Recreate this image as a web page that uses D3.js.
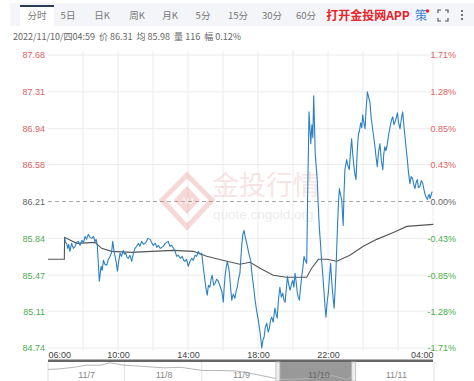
<!DOCTYPE html>
<html>
<head>
    <meta charset="utf-8">
    <title>分时图</title>
</head>
<style>
body { margin: 0; background: #fff; font-family: "Liberation Sans", Arial, "Noto Sans CJK SC", sans-serif; }
.axis text { font-family: "Liberation Sans", Arial, sans-serif; }
</style>
<body>

<script src="https://cdn.jsdelivr.net/npm/d3@7/dist/d3.min.js"></script>
<script>

// tab labels at the top
var tabs = ["分时", "5日", "日K", "周K", "月K", "5分", "15分", "30分", "60分"];
var infoText = "2022/11/10/四04:59  价 86.31  均 85.98  量 116  幅 0.12%";

// price axis (left) and change axis (right)
var priceTicks = [87.68, 87.31, 86.94, 86.58, 86.21, 85.84, 85.47, 85.11, 84.74];
var pctTicks = ["1.71%", "1.28%", "0.85%", "0.43%", "0.00%", "-0.43%", "-0.85%", "-1.28%", "-1.71%"];
var prevClose = 86.21;

// time axis labels
var timeLabels = ["06:00", "10:00", "14:00", "18:00", "22:00", "04:00"];

// minute price line (time, price)
var priceTimes = [
    "06:57","07:00","07:04","07:08","07:11","07:15","07:18","07:21","07:27","07:33",
    "07:38","07:44","07:50","07:56","08:02","08:07","08:12","08:18","08:24","08:30",
    "08:36","08:41","08:45","08:49","08:56","09:02","09:06","09:10","09:15","09:21",
    "09:27","09:33","09:38","09:42","09:46","09:50","09:54","09:58","10:03","10:07",
    "10:12","10:18","10:22","10:27","10:31","10:35","10:41","10:47","10:52","10:58",
    "11:04","11:10","11:15","11:21","11:28","11:36","11:43","11:50","11:55","12:01",
    "12:08","12:13","12:18","12:25","12:35","12:42","12:52","12:58","13:04","13:10",
    "13:15","13:21","13:27","13:33","13:40","13:45","13:50","13:55","14:01","14:07",
    "14:13","14:18","14:24","14:30","14:35","14:41","14:47","14:52","14:58","15:02",
    "15:06","15:10","15:15","15:19","15:23","15:28","15:33","15:38","15:44","15:50",
    "15:56","16:01","16:04","16:07","16:11","16:15","16:19","16:22","16:26","16:30",
    "16:35","16:41","16:45","16:49","16:53","16:58","17:01","17:04","17:08","17:12",
    "17:15","17:19","17:23","17:27","17:31","17:35","17:38","17:42","17:46","17:50",
    "17:55","18:01","18:07","18:13","18:17","18:21","18:25","18:30","18:35","18:39",
    "18:43","18:47","18:52","18:58","19:02","19:06","19:10","19:15","19:20","19:25",
    "19:29","19:33","19:37","19:41","19:45","19:50","19:55","19:59","20:03","20:07",
    "20:11","20:15","20:18","20:22","20:26","20:30","20:34","20:38","20:42","20:47",
    "20:50","20:55","20:58","21:01","21:03","21:05","21:08","21:11","21:14","21:16",
    "21:20","21:23","21:27","21:30","21:34","21:38","21:42","21:46","21:50","21:53",
    "21:57","22:01","22:05","22:09","22:13","22:16","22:21","22:24","22:27","22:30",
    "22:33","22:36","22:39","22:43","22:47","22:52","22:55","22:58","23:01","23:04",
    "23:08","23:13","23:17","23:21","23:25","23:29","23:33","23:36","23:40","23:44",
    "23:48","23:52","23:56","23:59","00:03","00:07","00:11","00:15","00:20","00:24",
    "00:28","00:33","00:37","00:41","00:45","00:49","00:53","00:58","01:03","01:08",
    "01:11","01:15","01:19","01:23","01:28","01:33","01:37","01:42","01:46","01:50",
    "01:54","01:58","02:02","02:07","02:11","02:16","02:20","02:24","02:28","02:32",
    "02:36","02:41","02:45","02:50","02:54","02:58","03:02","03:06","03:10","03:15",
    "03:20","03:25","03:29","03:33","03:37","03:41","03:44","03:47","03:50","03:52",
    "03:55","03:57"];
var priceValues = [
    85.85,85.80,85.79,85.74,85.78,85.71,85.75,85.79,85.74,85.76,
    85.80,85.81,85.77,85.82,85.80,85.86,85.83,85.88,85.85,85.84,
    85.86,85.81,85.83,85.77,85.41,85.56,85.52,85.62,85.58,85.57,
    85.63,85.66,85.70,85.81,85.72,85.66,85.60,85.51,85.62,85.69,
    85.66,85.72,85.68,85.69,85.65,85.64,85.67,85.61,85.68,85.74,
    85.76,85.79,85.76,85.81,85.78,85.80,85.84,85.83,85.80,85.77,
    85.79,85.75,85.77,85.74,85.76,85.79,85.81,85.76,85.77,85.74,
    85.72,85.66,85.67,85.64,85.66,85.62,85.61,85.63,85.56,85.61,
    85.64,85.62,85.67,85.66,85.71,85.68,85.69,85.56,85.42,85.33,
    85.27,85.37,85.35,85.43,85.47,85.37,85.39,85.43,85.41,85.36,
    85.31,85.20,85.35,85.46,85.55,85.61,85.55,85.49,85.35,85.22,
    85.28,85.24,85.31,85.35,85.43,85.49,85.63,85.76,85.88,85.92,
    85.87,85.82,85.77,85.71,85.66,85.62,85.52,85.42,85.33,85.22,
    85.12,85.02,84.90,84.74,84.82,84.85,84.95,84.99,84.90,84.94,
    85.02,85.05,85.00,85.14,85.08,85.04,85.22,85.35,85.25,85.29,
    85.22,85.20,85.33,85.46,85.38,85.32,85.38,85.42,85.35,85.49,
    85.40,85.29,85.25,85.22,85.35,85.46,85.55,85.66,85.62,85.59,
    86.23,87.11,86.95,86.79,86.90,86.98,86.85,87.27,86.95,86.69,
    86.55,86.43,86.15,85.96,85.80,85.62,85.48,85.32,85.15,85.05,
    85.20,85.29,85.45,85.59,85.40,85.29,85.14,85.30,85.49,85.75,
    85.99,86.20,86.34,86.28,86.23,85.97,86.30,86.53,86.58,86.63,
    86.57,86.53,86.70,86.84,86.68,86.56,86.47,86.43,86.70,86.88,
    86.92,87.00,86.95,87.08,87.00,86.94,87.15,87.31,87.25,87.20,
    87.05,86.94,86.85,86.76,86.65,86.56,86.70,86.79,86.62,86.53,
    86.68,86.76,86.72,86.78,86.88,86.96,87.02,87.06,86.98,87.01,
    87.05,87.10,87.00,86.94,87.03,87.11,86.98,86.86,86.74,86.63,
    86.50,86.39,86.46,86.44,86.38,86.34,86.40,86.43,86.35,86.36,
    86.42,86.39,86.33,86.28,86.25,86.23,86.27,86.28,86.24,86.26,
    86.29,86.31];

// average price line
var avgTimes = ["06:00","06:56","06:57","07:38","08:41","09:04","09:38","10:47","11:56","13:10",
    "14:18","15:04","16:13","16:58","17:33","18:07","18:52","19:38","20:47","21:04",
    "21:27","21:56","22:30","23:15","00:01","00:47","01:44","02:30","03:15","04:01"];
var avgValues = [85.63,85.63,85.85,85.79,85.80,85.74,85.71,85.70,85.71,85.72,
    85.71,85.66,85.61,85.58,85.60,85.54,85.47,85.45,85.45,85.54,
    85.63,85.63,85.61,85.67,85.76,85.83,85.90,85.96,85.97,85.98];

// navigator (5 days)
var navDays = ["11/7", "11/8", "11/9", "11/10", "11/11"];
var navPos = [0, 0.15, 0.33, 0.5, 0.67, 0.8, 0.98, 1.2, 1.5, 1.72, 1.85, 2.0, 2.22, 2.43, 2.6, 2.77, 3.0, 3.3, 3.68, 3.86, 3.94];
var navValues = [86.4, 86.5, 86.8, 87.2, 87.2, 87.66, 87.2, 87.0, 86.7, 86.8, 86.5, 86.2, 86.2, 86.1, 85.7, 85.2, 84.5, 84.6, 85.2, 84.5, 85.0];

var w = 474;
var h = 381;
var plotL = 48, plotR = 433, plotT = 55, plotB = 348;

var svg = d3.select("body").append("svg")
    .attr("width", w)
    .attr("height", h);

var parseT = function(s) {
    var hh = +s.slice(0, 2), mm = +s.slice(3, 5);
    var day = hh < 6 ? 10 : 9;
    return new Date(2022, 10, day, hh, mm);
};

var xScale = d3.scaleTime()
    .domain([parseT("06:00"), parseT("04:00")])
    .range([plotL, plotR]);
var yScale = d3.scaleLinear()
    .domain([84.74, 87.68])
    .range([plotB, plotT]);

// ---- header tabs ----
svg.append("rect").attr("x", 10).attr("y", 3).attr("width", 464).attr("height", 23).attr("fill", "#f3f5f8");
svg.append("rect").attr("x", 20).attr("y", 5).attr("width", 34).attr("height", 21).attr("fill", "#fff");
svg.append("rect").attr("x", 20).attr("y", 5).attr("width", 34).attr("height", 2).attr("fill", "#2c3e55");

var tabX = [37, 68, 102, 137, 170, 203, 238, 272, 306];
svg.selectAll("text.tab")
    .data(tabs)
    .enter()
    .append("text")
    .attr("class", "tab")
    .attr("x", function(d, i) { return tabX[i]; })
    .attr("y", 19)
    .attr("text-anchor", "middle")
    .attr("font-size", "9.5px")
    .attr("font-family", "'Noto Sans CJK SC', sans-serif")
    .attr("fill", "#777")
    .text(function(d) { return d; });

svg.append("text").attr("x", 368).attr("y", 20).attr("text-anchor", "middle")
    .attr("font-size", "12px").attr("font-weight", "bold")
    .attr("font-family", "'Noto Sans CJK SC', sans-serif")
    .attr("fill", "#e8232a").text("打开金投网APP");
svg.append("text").attr("x", 421).attr("y", 20).attr("text-anchor", "middle")
    .attr("font-size", "12px").attr("font-family", "'Noto Sans CJK SC', sans-serif")
    .attr("fill", "#3d7fd6").text("策");
svg.append("circle").attr("cx", 427.5).attr("cy", 11).attr("r", 1.8).attr("fill", "#e8232a");
// fullscreen icon
svg.append("path")
    .attr("d", "M438,13 v-3 h3 M445,10 h3 v3 M448,18 v3 h-3 M441,21 h-3 v-3")
    .attr("fill", "none").attr("stroke", "#555").attr("stroke-width", 1.2);
svg.selectAll("circle.dot").data([11, 15, 19]).enter().append("circle")
    .attr("class", "dot").attr("cx", 462).attr("cy", function(d) { return d; })
    .attr("r", 1.1).attr("fill", "#555");

svg.append("text").attr("x", 13).attr("y", 40)
    .attr("font-size", "9px").attr("font-family", "'Noto Sans CJK SC', sans-serif")
    .attr("fill", "#666").attr("xml:space", "preserve").text(infoText);

// ---- grid ----
var gridTimes = d3.range(0, 12).map(function(i) { return d3.timeHour.offset(parseT("06:00"), i * 2); });
svg.append("g").selectAll("line")
    .data(gridTimes.slice(1))
    .enter().append("line")
    .attr("x1", function(d) { return xScale(d); })
    .attr("x2", function(d) { return xScale(d); })
    .attr("y1", 51).attr("y2", plotB + 3)
    .attr("stroke", "#ececec").attr("stroke-width", 1);
svg.append("g").selectAll("line")
    .data(priceTicks.filter(function(d) { return d !== prevClose; }))
    .enter().append("line")
    .attr("x1", plotL).attr("x2", plotR)
    .attr("y1", function(d) { return yScale(d); })
    .attr("y2", function(d) { return yScale(d); })
    .attr("stroke", "#ececec").attr("stroke-width", 1);
svg.append("line")
    .attr("x1", plotL).attr("x2", plotR)
    .attr("y1", yScale(prevClose)).attr("y2", yScale(prevClose))
    .attr("stroke", "#aaa").attr("stroke-dasharray", "4,3");

// ---- watermark ----
var wm = svg.append("g").attr("opacity", 0.22);
wm.append("path")
    .attr("d", "M187,175 L212,200 L187,227 L162,200 Z")
    .attr("fill", "none").attr("stroke", "#d9534f").attr("stroke-width", 5);
wm.append("path")
    .attr("d", "M187,186 L200,200 L187,214 L174,200 Z")
    .attr("fill", "#d9534f");
wm.append("text").attr("x", 187).attr("y", 204).attr("text-anchor", "middle")
    .attr("font-size", "9px").attr("fill", "#fff").text("AU");
wm.append("text").attr("x", 212).attr("y", 195)
    .attr("font-size", "27px").attr("font-family", "'Noto Sans CJK SC', sans-serif")
    .attr("fill", "#e08a86").text("金投行情");
wm.append("text").attr("x", 213).attr("y", 219)
    .attr("font-size", "13.5px").attr("fill", "#aaa").text("quote.cngold.org");

// ---- axes labels ----
var colorFor = function(v) { return v > prevClose ? "#e0615c" : (v < prevClose ? "#4cae4c" : "#666"); };

var yAxisL = d3.axisLeft(yScale).tickValues(priceTicks).tickSize(0).tickPadding(3)
    .tickFormat(d3.format(".2f"));
var gL = svg.append("g").attr("class", "axis").attr("transform", "translate(" + plotL + ",0)").call(yAxisL);
gL.select(".domain").remove();
gL.selectAll("text").attr("font-size", "9px").attr("fill", function(d) { return colorFor(d); });

var yAxisR = d3.axisRight(yScale).tickValues(priceTicks).tickSize(0).tickPadding(0)
    .tickFormat(function(d, i) { return pctTicks[i]; });
var gR = svg.append("g").attr("class", "axis").attr("transform", "translate(456,0)").call(yAxisR);
gR.select(".domain").remove();
gR.selectAll("text").attr("font-size", "9px").attr("text-anchor", "end")
    .attr("fill", function(d) { return colorFor(d); });

// ---- lines ----
var priceData = priceTimes.map(function(t, i) { return [parseT(t), priceValues[i]]; });
var avgData = avgTimes.map(function(t, i) { return [parseT(t), avgValues[i]]; });
var line = d3.line()
    .x(function(d) { return xScale(d[0]); })
    .y(function(d) { return yScale(d[1]); });

svg.append("path").datum(avgData)
    .attr("d", line).attr("fill", "none")
    .attr("stroke", "#555").attr("stroke-width", 1.1);
svg.append("path").datum(priceData)
    .attr("d", line).attr("fill", "none")
    .attr("stroke", "#2b80c4").attr("stroke-width", 1.1).attr("stroke-linejoin", "round");

// ---- time axis ----
var xAxis = d3.axisBottom(xScale)
    .tickValues(timeLabels.map(parseT))
    .tickSize(0).tickPadding(0)
    .tickFormat(d3.timeFormat("%H:%M"));
var gX = svg.append("g").attr("class", "axis").attr("transform", "translate(0,352)").call(xAxis);
gX.select(".domain").remove();
gX.selectAll("text").attr("font-size", "9px").attr("fill", "#444")
    .attr("text-anchor", function(d, i) { return i === 0 ? "start" : (i === timeLabels.length - 1 ? "end" : "middle"); });

// ---- navigator ----
var navX = d3.scaleLinear().domain([0, 5]).range([plotL, plotR + 2]);
var navY = d3.scaleLinear().domain([84.2, 88.0]).range([381, 361]);
svg.append("rect").attr("x", plotL).attr("y", 359.5).attr("width", plotR - plotL).attr("height", 2.5).attr("fill", "#666");
svg.append("rect").attr("x", navX(2.97)).attr("y", 362).attr("width", navX(3.95) - navX(2.97)).attr("height", 19).attr("fill", "#999");
svg.append("g").selectAll("line")
    .data([1, 2, 5])
    .enter().append("line")
    .attr("x1", function(d) { return navX(d) - 1; }).attr("x2", function(d) { return navX(d) - 1; })
    .attr("y1", 362).attr("y2", 381)
    .attr("stroke", "#e2e2e2");
svg.append("line").attr("x1", plotL).attr("x2", plotL).attr("y1", 362).attr("y2", 381).attr("stroke", "#ddd");
svg.append("path")
    .datum(navPos.map(function(p, i) { return [p, navValues[i]]; }))
    .attr("d", d3.line().x(function(d) { return navX(d[0]); }).y(function(d) { return navY(d[1]); }))
    .attr("fill", "none").attr("stroke", "#b5b5b5").attr("stroke-width", 1);
svg.selectAll("text.nav")
    .data(navDays)
    .enter().append("text")
    .attr("class", "nav")
    .attr("x", function(d, i) { return navX(i + 0.5); })
    .attr("y", 378)
    .attr("text-anchor", "middle")
    .attr("font-size", "9px")
    .attr("fill", function(d, i) { return i === 3 ? "#666" : "#888"; })
    .text(function(d) { return d; });
[2.97, 3.95].forEach(function(p) {
    svg.append("rect").attr("x", navX(p) - 2).attr("y", 362).attr("width", 4).attr("height", 19)
        .attr("fill", "#eee").attr("stroke", "#bbb").attr("stroke-width", 0.8);
});

</script>
</body>
</html>
